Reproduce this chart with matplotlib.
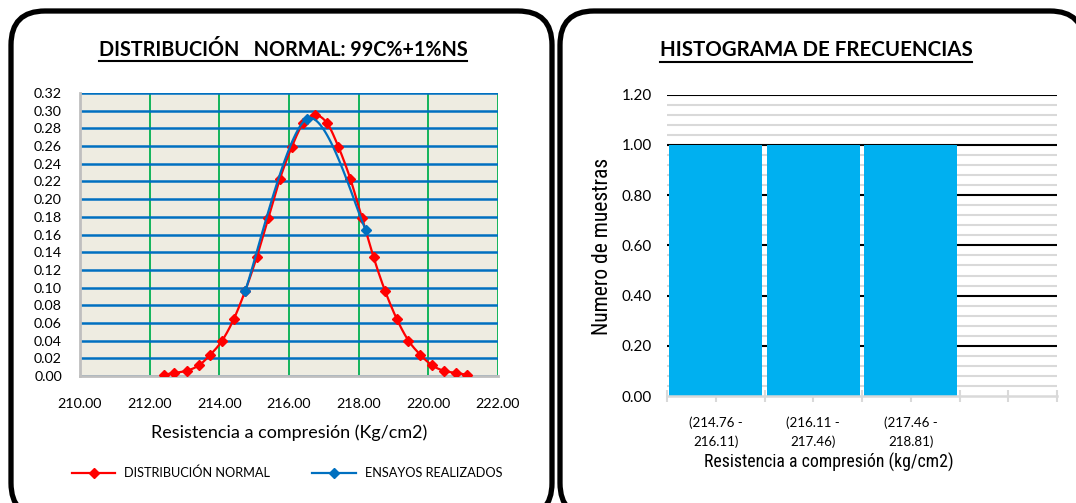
import numpy as np
import matplotlib
matplotlib.use("Agg")
import matplotlib.pyplot as plt
from matplotlib import font_manager as fm
from matplotlib.patches import FancyBboxPatch
from matplotlib.lines import Line2D
from matplotlib.ticker import MultipleLocator, FormatStrFormatter

# ---------------- data ----------------
normal_x = [212.40, 212.71, 213.07, 213.41, 213.74, 214.08, 214.41, 214.74, 215.07,
            215.41, 215.74, 216.08, 216.41, 216.75, 217.09, 217.42, 217.76, 218.09,
            218.43, 218.76, 219.10, 219.43, 219.77, 220.11, 220.44, 220.78, 221.11]
normal_y = [0.0015, 0.0035, 0.006, 0.012, 0.024, 0.040, 0.064, 0.096, 0.134,
            0.179, 0.223, 0.259, 0.286, 0.295, 0.286, 0.259, 0.223, 0.179,
            0.134, 0.096, 0.064, 0.040, 0.024, 0.012, 0.006, 0.0035, 0.0015]
ensayos_x = [214.74, 216.52, 218.21]
ensayos_y = [0.096, 0.291, 0.165]

hist_labels = ["(214.76 -\n216.11)", "(216.11 -\n217.46)", "(217.46 -\n218.81)", ""]
hist_counts = [1, 1, 1, 0]

title_left = "DISTRIBUCIÓN   NORMAL: 99C%+1%NS"
title_right = "HISTOGRAMA DE FRECUENCIAS"
xlabel_left = "Resistencia a compresión (Kg/cm2)"
xlabel_right = "Resistencia a compresión (kg/cm2)"
ylabel_right = "Numero de muestras"
legend_labels = ["DISTRIBUCIÓN NORMAL", "ENSAYOS REALIZADOS"]

# ---------------- helpers ----------------
W, H = 1076, 503
MAIN = ["Lato", "DejaVu Sans"]

names = {f.name for f in fm.fontManager.ttflist}
narrow_fp = None
for n in ["Liberation Sans Narrow", "Arial Narrow", "Roboto Condensed",
          "Open Sans Condensed", "DejaVu Sans Condensed", "Noto Sans Condensed"]:
    if n in names:
        narrow_fp = fm.FontProperties(family=n)
        break
if narrow_fp is None:
    if any(f.name == "DejaVu Sans" and f.stretch in ("condensed", 600, "semi-condensed")
           for f in fm.fontManager.ttflist):
        narrow_fp = fm.FontProperties(family="DejaVu Sans", stretch="condensed")
    else:
        narrow_fp = fm.FontProperties(family="Liberation Sans")


def fx(px):
    return px / W


def fy(py):
    return 1 - py / H


def smooth(x, y, n=24):
    """Excel-like smoothed line (Catmull-Rom Bezier) through the given points."""
    x = np.asarray(x, float)
    y = np.asarray(y, float)
    px = np.concatenate([[x[0]], x, [x[-1]]])
    py = np.concatenate([[y[0]], y, [y[-1]]])
    xs, ys = [], []
    m = len(x) - 1
    for i in range(m):
        p0 = np.array([px[i], py[i]])
        p1 = np.array([px[i + 1], py[i + 1]])
        p2 = np.array([px[i + 2], py[i + 2]])
        p3 = np.array([px[i + 3], py[i + 3]])
        c1 = p1 + (p2 - p0) / 6.0
        c2 = p2 - (p3 - p1) / 6.0
        t = np.linspace(0, 1, n, endpoint=(i == m - 1))[:, None]
        b = ((1 - t) ** 3) * p1 + 3 * ((1 - t) ** 2) * t * c1 + 3 * (1 - t) * t ** 2 * c2 + t ** 3 * p2
        xs.append(b[:, 0])
        ys.append(b[:, 1])
    return np.concatenate(xs), np.concatenate(ys)


fig = plt.figure(figsize=(W / 100, H / 100), dpi=100)

# ---------------- panel frames ----------------
bg = fig.add_axes([0, 0, 1, 1], zorder=0)
bg.set_xlim(0, W)
bg.set_ylim(H, 0)
bg.axis("off")
for (x0, y0, w, h) in [(11, 11, 541, 506), (560, 11, 524, 506)]:
    bg.add_patch(FancyBboxPatch((x0, y0), w, h, boxstyle="round,pad=0,rounding_size=34",
                                lw=3.8, ec="black", fc="white"))

# ---------------- left chart ----------------
ax1 = fig.add_axes([fx(80), fy(376), (498 - 80) / W, (376 - 93) / H], zorder=2)
ax1.set_facecolor("#EEECE1")
ax1.set_xlim(210, 222)
ax1.set_ylim(0, 0.32)
ax1.set_xticks(np.arange(210, 222.01, 2))
ax1.set_yticks(np.arange(0, 0.3201, 0.02))
ax1.xaxis.set_major_formatter(FormatStrFormatter("%.2f"))
ax1.yaxis.set_major_formatter(FormatStrFormatter("%.2f"))
ax1.set_axisbelow(True)
ax1.xaxis.grid(True, color="#00B050", lw=1.3)
ax1.yaxis.grid(True, color="#0070C0", lw=1.8)
for s in ["top", "right"]:
    ax1.spines[s].set_visible(False)
for s in ["left", "bottom"]:
    ax1.spines[s].set_color("#BFBFBF")
    ax1.spines[s].set_linewidth(2)
ax1.tick_params(axis="both", length=0)
ax1.tick_params(axis="x", pad=16)
ax1.tick_params(axis="y", pad=13)
for lab in ax1.get_xticklabels() + ax1.get_yticklabels():
    lab.set_family(MAIN)
    lab.set_fontsize(10.3)

sx, sy = smooth(normal_x, normal_y, 12)
ax1.plot(sx, sy, color="#FF0000", lw=1.6, zorder=3)
ax1.plot(normal_x, normal_y, ls="none", marker="D", ms=4.6, color="#FF0000", zorder=4)
bx, by = smooth(ensayos_x, ensayos_y, 40)
ax1.plot(bx, by, color="#0070C0", lw=1.6, zorder=5)
ax1.plot(ensayos_x, ensayos_y, ls="none", marker="D", ms=4.6, color="#0070C0", zorder=6)

ax1.set_xlabel(xlabel_left, family=MAIN, fontsize=12)
ax1.xaxis.set_label_coords(0.5, (376 - 433) / 283)
ax1.xaxis.label.set_verticalalignment("center")

handles = [Line2D([], [], color="#FF0000", lw=1.6, marker="D", ms=4.6),
           Line2D([], [], color="#0070C0", lw=1.6, marker="D", ms=4.6)]
leg = ax1.legend(handles, legend_labels, ncol=2, loc="center",
                 bbox_to_anchor=(fx(287), fy(473)), bbox_transform=fig.transFigure,
                 frameon=False, prop={"family": MAIN, "size": 9.2},
                 handlelength=3.4, handletextpad=0.7, columnspacing=3.3)

# ---------------- right chart ----------------
ax2 = fig.add_axes([fx(667), fy(396), (1057 - 667) / W, (396 - 94.8) / H], zorder=2)
pos = np.arange(len(hist_labels))
ax2.bar(pos, hist_counts, width=0.955, color="#00B0F0", zorder=2)
ax2.set_xlim(-0.5, 3.5)
ax2.set_ylim(0, 1.2)
ax2.set_yticks(np.arange(0, 1.201, 0.2))
ax2.yaxis.set_minor_locator(MultipleLocator(0.04))
ax2.yaxis.set_major_formatter(FormatStrFormatter("%.2f"))
ax2.set_axisbelow(True)
ax2.yaxis.grid(True, which="major", color="black", lw=1.5)
ax2.yaxis.grid(True, which="minor", color="#D9D9D9", lw=1.5)
ax2.set_xticks(pos)
ax2.set_xticklabels(hist_labels, family=MAIN, fontsize=9.6, linespacing=1.55)
ax2.set_xticks(np.arange(-0.5, 3.51, 1.0), minor=True)
for s in ["top", "right", "left"]:
    ax2.spines[s].set_visible(False)
ax2.spines["bottom"].set_color("#D9D9D9")
ax2.spines["bottom"].set_linewidth(1.8)
ax2.spines["bottom"].set_zorder(3)
ax2.tick_params(axis="y", which="both", length=0, pad=11)
ax2.tick_params(axis="x", which="both", direction="inout", length=8, width=1.5,
                color="#D9D9D9", pad=11)
for lab in ax2.get_yticklabels():
    lab.set_family(MAIN)
    lab.set_fontsize(11)

ax2.set_xlabel(xlabel_right, fontproperties=narrow_fp, fontsize=14)
ax2.xaxis.set_label_coords((829 - 667) / 390, (396 - 462) / 301)
ax2.xaxis.label.set_verticalalignment("center")
ax2.set_ylabel(ylabel_right, fontproperties=narrow_fp, fontsize=15.5)
ax2.yaxis.set_label_coords((603 - 667) / 390, (396 - 246.5) / 301)
ax2.yaxis.label.set_verticalalignment("center")

# ---------------- titles (underlined) ----------------
t1 = fig.text(fx(283), fy(56), title_left, ha="center", va="baseline",
              family=MAIN, fontsize=14.5, fontweight="bold")
t2 = fig.text(fx(816), fy(56.5), title_right, ha="center", va="baseline",
              family=MAIN, fontsize=14.5, fontweight="bold")

# fit text widths to the reference widths (pixels)
fig.canvas.draw()
ren = fig.canvas.get_renderer()
for art, target, vertical in [(t1, 368, False), (t2, 314, False),
                              (ax1.xaxis.label, 275, False),
                              (ax2.xaxis.label, 250, False),
                              (ax2.yaxis.label, 177, True)]:
    bb = art.get_window_extent(ren)
    cur = bb.height if vertical else bb.width
    if cur > 0:
        art.set_fontsize(art.get_fontsize() * target / cur)

fig.canvas.draw()
ax2.yaxis.get_major_ticks()[0].gridline.set_visible(False)
for t, uy in [(t1, 61), (t2, 62)]:
    bb = t.get_window_extent(ren)
    fig.add_artist(Line2D([bb.x0 / W, bb.x1 / W], [fy(uy), fy(uy)],
                          transform=fig.transFigure, color="black", lw=1.5))

fig.savefig("out.png", dpi=100)
